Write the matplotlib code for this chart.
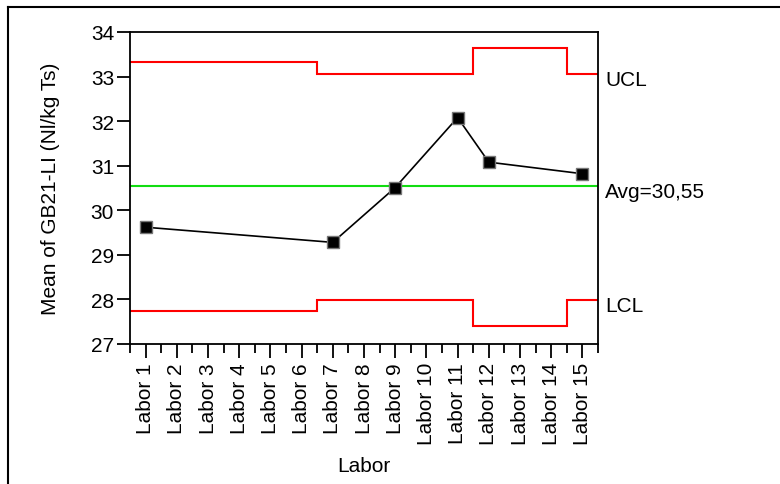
import numpy as np
import matplotlib
matplotlib.use("Agg")
from matplotlib import pyplot as plt
from matplotlib.lines import Line2D

labs = ["Labor %d" % i for i in range(1, 16)]

# labs that actually reported a value
pt_lab = [1, 7, 9, 11, 12, 15]
pt_mean = [29.62, 29.28, 30.51, 32.08, 31.08, 30.82]

avg = 30.55
ucl = [33.33] * 6 + [33.06] * 5 + [33.63] * 3 + [33.06]
lcl = [27.74] * 6 + [27.99] * 5 + [27.41] * 3 + [27.99]

plt.rcParams['font.family'] = ['Liberation Sans', 'DejaVu Sans']
plt.rcParams['font.size'] = 15

fig = plt.figure(figsize=(7.8, 4.85), dpi=100)
ax = fig.add_axes([130 / 780, 1 - 345 / 485, 468 / 780, 312 / 485])

edges = np.arange(0.5, 16.0, 1.0)
ax.stairs(ucl, edges, baseline=None, color='#ff0000', lw=1.5)
ax.stairs(lcl, edges, baseline=None, color='#ff0000', lw=1.5)
ax.axhline(avg, color='#11dd11', lw=1.5)

ax.plot(pt_lab, pt_mean, color='black', lw=1.2, marker='s', ms=8.5,
        mfc='black', mec='#777777', mew=1.0, zorder=5)

ax.set_xlim(0.5, 15.5)
ax.set_ylim(27, 34)
ax.set_xticks(range(1, 16))
ax.set_xticklabels(labs, rotation=90)
ax.set_xticks(edges, minor=True)
ax.set_yticks(range(27, 35))

ax.tick_params(axis='x', which='major', length=10, width=1.3, pad=3)
ax.tick_params(axis='x', which='minor', length=6.5, width=1.3)
ax.tick_params(axis='y', length=9.5, width=1.3, pad=2)
for s in ax.spines.values():
    s.set_linewidth(1.3)

ax.set_ylabel("Mean of GB21-LI (Nl/kg Ts)", labelpad=22)
ax.set_xlabel("Labor", labelpad=8)

# limit labels on the right side
blend = ax.get_yaxis_transform()
for val, txt in [(ucl[-1], "UCL"), (avg, "Avg=30,55"), (lcl[-1], "LCL")]:
    ax.annotate(txt, xy=(1, val), xycoords=blend, xytext=(5, -4),
                textcoords='offset points', va='center', ha='left',
                annotation_clip=False)

# outer frame
fig.add_artist(Line2D([8 / 780, 8 / 780], [0, 1 - 8 / 485], color='black', lw=1.5))
fig.add_artist(Line2D([8 / 780, 1], [1 - 8 / 485, 1 - 8 / 485], color='black', lw=1.5))

fig.savefig("out.png", dpi=100)
